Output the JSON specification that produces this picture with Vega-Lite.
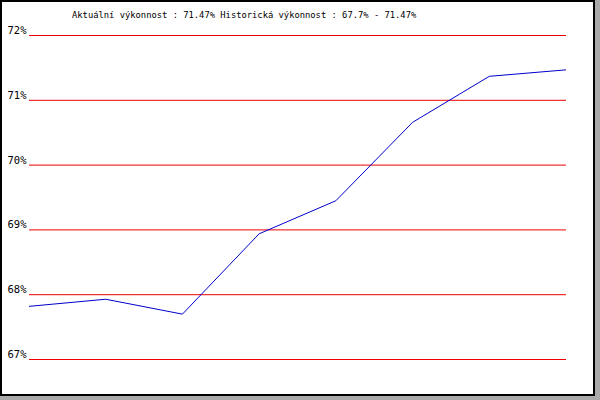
{
  "$schema": "https://vega.github.io/schema/vega-lite/v6.json",
  "width": 593,
  "height": 394,
  "autosize": {"type": "none"},
  "padding": {"left": 1, "top": 1, "right": 6, "bottom": 5},
  "background": "#aaaaaa",
  "config": {
    "view": {"fill": "white", "stroke": "black", "strokeWidth": 2},
    "font": "DejaVu Sans Mono"
  },
  "title": {
    "text": "Aktuální výkonnost : 71.47%  Historická výkonnost : 67.7% - 71.47%",
    "anchor": "start",
    "frame": "group",
    "dx": 71,
    "offset": -26,
    "baseline": "alphabetic",
    "font": "DejaVu Sans Mono",
    "fontSize": 8.8,
    "fontWeight": "normal",
    "color": "black"
  },
  "datasets": {
    "grid": [{"v": 67}, {"v": 68}, {"v": 69}, {"v": 70}, {"v": 71}, {"v": 72}],
    "perf": [
      {"i": 0, "v": 67.82},
      {"i": 1, "v": 67.93},
      {"i": 2, "v": 67.7},
      {"i": 3, "v": 68.94},
      {"i": 4, "v": 69.45},
      {"i": 5, "v": 70.66},
      {"i": 6, "v": 71.37},
      {"i": 7, "v": 71.47}
    ]
  },
  "layer": [
    {
      "data": {"name": "grid"},
      "mark": {"type": "rule", "color": "#ee0000", "strokeWidth": 1},
      "encoding": {
        "y": {
          "field": "v",
          "type": "quantitative",
          "scale": {"domain": [67, 72], "range": [358.5, 34.5], "zero": false, "nice": false},
          "axis": {
            "orient": "left",
            "offset": -28,
            "values": [67, 68, 69, 70, 71, 72],
            "labelExpr": "datum.value + '%'",
            "domain": false,
            "ticks": false,
            "tickSize": 0,
            "grid": false,
            "title": null,
            "labelPadding": 3,
            "labelAlign": "right",
            "labelBaseline": "alphabetic",
            "labelOffset": -2,
            "labelFont": "DejaVu Sans Mono",
            "labelFontSize": 10.5,
            "labelColor": "black",
            "labelFlush": false,
            "labelOverlap": false
          }
        },
        "x": {
          "datum": 0,
          "type": "quantitative",
          "scale": {"domain": [0, 7], "range": [28, 565], "zero": false, "nice": false},
          "axis": null
        },
        "x2": {"datum": 7}
      }
    },
    {
      "data": {"name": "perf"},
      "mark": {"type": "line", "color": "#0000cc", "strokeWidth": 1},
      "encoding": {
        "x": {"field": "i", "type": "quantitative"},
        "y": {"field": "v", "type": "quantitative"}
      }
    }
  ]
}
